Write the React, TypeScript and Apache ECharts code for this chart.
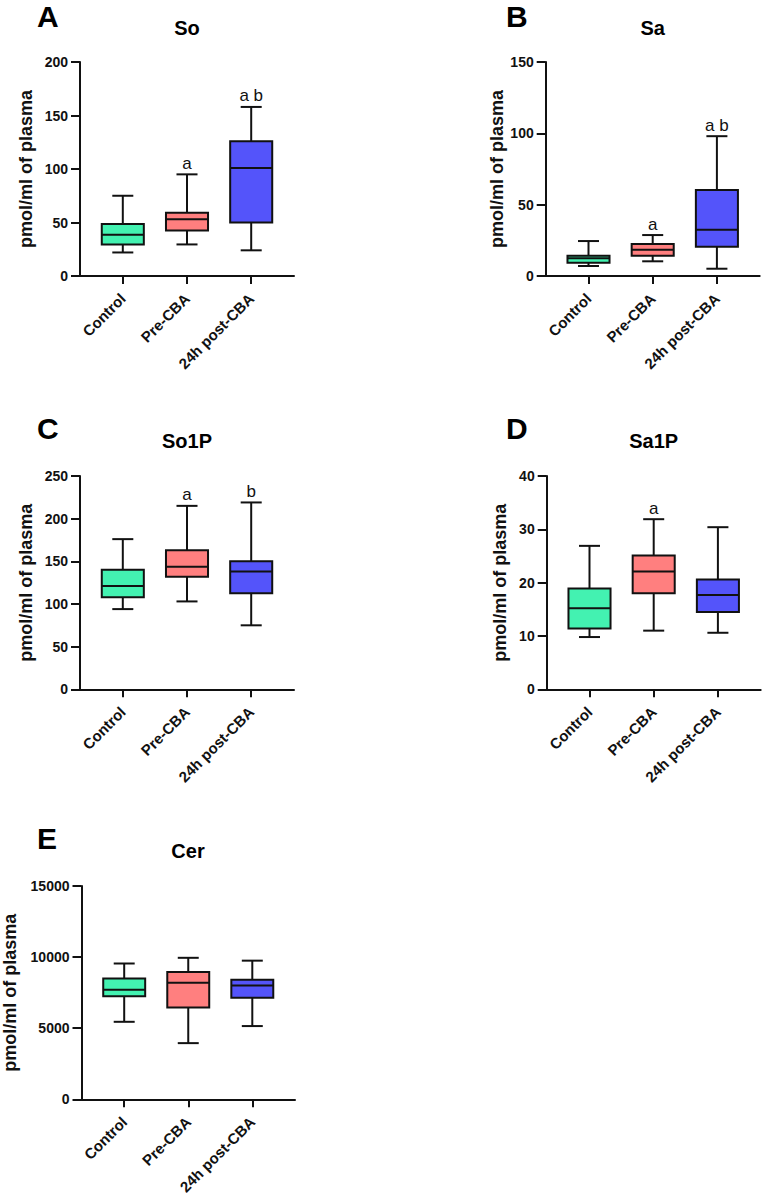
import React, { useEffect, useRef } from 'react';
import * as echarts from 'echarts';

const categories = ['Control', 'Pre-CBA', '24h post-CBA'];

// Five-number summaries per group: [min, Q1, median, Q3, max] (pmol/ml of plasma)
const soStats = [
  [22, 29.5, 38.5, 48.5, 75],
  [29.5, 42.5, 53, 59, 95],
  [24, 50, 101, 126, 158],
];
const saStats = [
  [7, 9.3, 12.4, 14.2, 24.5],
  [10.3, 14.2, 18.4, 22.4, 28.7],
  [5.1, 20.5, 32.5, 60.3, 98],
];
const so1pStats = [
  [94, 108, 121, 140, 176],
  [103, 132, 143.5, 163, 215],
  [75, 112.5, 138, 150, 219],
];
const sa1pStats = [
  [9.8, 11.4, 15.2, 18.9, 26.9],
  [11, 18, 22.1, 25.1, 31.9],
  [10.6, 14.5, 17.7, 20.6, 30.4],
];
const cerStats = [
  [5450, 7250, 7700, 8500, 9550],
  [3950, 6450, 8200, 8950, 9950],
  [5150, 7150, 8000, 8400, 9750],
];

// Significance letters drawn above each group
const soMarks = ['', 'a', 'a b'];
const saMarks = ['', 'a', 'a b'];
const so1pMarks = ['', 'a', 'b'];
const sa1pMarks = ['', 'a', ''];
const cerMarks = ['', '', ''];

// Axis ranges
const yMaxes = [200, 150, 250, 40, 15000];
const ySteps = [50, 50, 50, 10, 5000];
const panelLetters = ['A', 'B', 'C', 'D', 'E'];
const panelTitles = ['So', 'Sa', 'So1P', 'Sa1P', 'Cer'];
const panelStats = [soStats, saStats, so1pStats, sa1pStats, cerStats];
const panelMarks = [soMarks, saMarks, so1pMarks, sa1pMarks, cerMarks];

const groupColors = ['#43F2B1', '#FF7F7F', '#5454FA'];
const INK = '#111111';
const FONT = '"Liberation Sans", Arial, Helvetica, sans-serif';

// Placement of each panel on the page
const layouts = [
  { left: 80, top: 62, height: 214, nameGap: 45, letterX: 37, letterY: 16, titleY: 28 },
  { left: 545.7, top: 62, height: 214, nameGap: 38, letterX: 506, letterY: 16, titleY: 28 },
  { left: 80, top: 476, height: 213.3, nameGap: 45.5, letterX: 37, letterY: 428, titleY: 441 },
  { left: 546.7, top: 476, height: 213.3, nameGap: 37.5, letterX: 506, letterY: 428, titleY: 441 },
  { left: 81, top: 886, height: 213.3, nameGap: 62.5, letterX: 37, letterY: 838, titleY: 851 },
];
const PLOT_WIDTH = 214;

function buildOption() {
  const grid: any[] = [];
  const xAxis: any[] = [];
  const yAxis: any[] = [];
  const series: any[] = [];
  const graphic: any[] = [];

  layouts.forEach((lay, i) => {
    grid.push({ left: lay.left, top: lay.top, width: PLOT_WIDTH, height: lay.height, containLabel: false });
    xAxis.push({
      type: 'value',
      gridIndex: i,
      min: -2 / 3,
      max: 8 / 3,
      splitLine: { show: false },
      axisLine: { onZero: false, lineStyle: { color: INK, width: 2 } },
      axisTick: { show: true, length: 8, lineStyle: { color: INK, width: 2 }, customValues: [0, 1, 2] },
      axisLabel: {
        customValues: [0, 1, 2],
        formatter: (v: number) => categories[Math.round(v)] ?? '',
        rotate: 45,
        margin: 20,
        color: INK,
        fontFamily: FONT,
        fontWeight: 'bold',
        fontSize: 15,
      },
    });
    yAxis.push({
      type: 'value',
      gridIndex: i,
      min: 0,
      max: yMaxes[i],
      interval: ySteps[i],
      name: 'pmol/ml of plasma',
      nameLocation: 'middle',
      nameRotate: 90,
      nameGap: lay.nameGap,
      nameTextStyle: { color: INK, fontFamily: FONT, fontWeight: 'bold', fontSize: 18 },
      splitLine: { show: false },
      axisLine: { show: true, onZero: false, lineStyle: { color: INK, width: 2 } },
      axisTick: { show: true, length: 9, lineStyle: { color: INK, width: 2 } },
      axisLabel: {
        margin: 12,
        color: INK,
        fontFamily: FONT,
        fontWeight: 'bold',
        fontSize: 14,
        formatter: (v: number) => String(v),
      },
    });

    const stats = panelStats[i];
    const marks = panelMarks[i];
    series.push({
      type: 'custom',
      xAxisIndex: i,
      yAxisIndex: i,
      encode: { x: 0, y: [1, 2, 3, 4, 5] },
      data: stats.map((s, k) => [k, ...s]),
      renderItem: (params: any, api: any) => {
        const k = api.value(0);
        const lo = api.coord([k, api.value(1)]);
        const q1 = api.coord([k, api.value(2)]);
        const med = api.coord([k, api.value(3)]);
        const q3 = api.coord([k, api.value(4)]);
        const hi = api.coord([k, api.value(5)]);
        const bw = api.size([1, 0])[0] * 0.655;
        const cw = bw / 2;
        const cx = lo[0];
        const lineStyle = { stroke: INK, lineWidth: 2 };
        const children: any[] = [
          { type: 'line', shape: { x1: cx, y1: hi[1], x2: cx, y2: q3[1] }, style: lineStyle },
          { type: 'line', shape: { x1: cx, y1: q1[1], x2: cx, y2: lo[1] }, style: lineStyle },
          { type: 'line', shape: { x1: cx - cw / 2, y1: hi[1], x2: cx + cw / 2, y2: hi[1] }, style: lineStyle },
          { type: 'line', shape: { x1: cx - cw / 2, y1: lo[1], x2: cx + cw / 2, y2: lo[1] }, style: lineStyle },
          {
            type: 'rect',
            shape: { x: cx - bw / 2, y: q3[1], width: bw, height: q1[1] - q3[1] },
            style: { fill: groupColors[params.dataIndex], stroke: INK, lineWidth: 2 },
          },
          { type: 'line', shape: { x1: cx - bw / 2, y1: med[1], x2: cx + bw / 2, y2: med[1] }, style: lineStyle },
        ];
        const mark = marks[params.dataIndex];
        if (mark) {
          children.push({
            type: 'text',
            style: {
              x: cx,
              y: hi[1] - 11,
              text: mark,
              fill: INK,
              font: `17px ${FONT}`,
              textAlign: 'center',
              textVerticalAlign: 'middle',
            },
          });
        }
        return { type: 'group', children };
      },
    });

    graphic.push({
      type: 'text',
      x: lay.letterX,
      y: lay.letterY,
      style: {
        text: panelLetters[i],
        fill: '#000',
        font: `bold 30px ${FONT}`,
        textAlign: 'left',
        textVerticalAlign: 'middle',
      },
    });
    graphic.push({
      type: 'text',
      x: lay.left + PLOT_WIDTH / 2,
      y: lay.titleY,
      style: {
        text: panelTitles[i],
        fill: '#000',
        font: `bold 20px ${FONT}`,
        textAlign: 'center',
        textVerticalAlign: 'middle',
      },
    });
  });

  return {
    animation: false,
    backgroundColor: '#ffffff',
    textStyle: { fontFamily: FONT },
    grid,
    xAxis,
    yAxis,
    series,
    graphic,
  };
}

export default function App() {
  const ref = useRef<HTMLDivElement>(null);

  useEffect(() => {
    if (!ref.current) return;
    const chart = echarts.init(ref.current, undefined, { renderer: 'svg' });
    chart.setOption(buildOption());
    return () => chart.dispose();
  }, []);

  return (
    <div
      ref={ref}
      style={{ position: 'absolute', left: 0, top: 0, width: 763, height: 1200, background: '#fff' }}
    />
  );
}
